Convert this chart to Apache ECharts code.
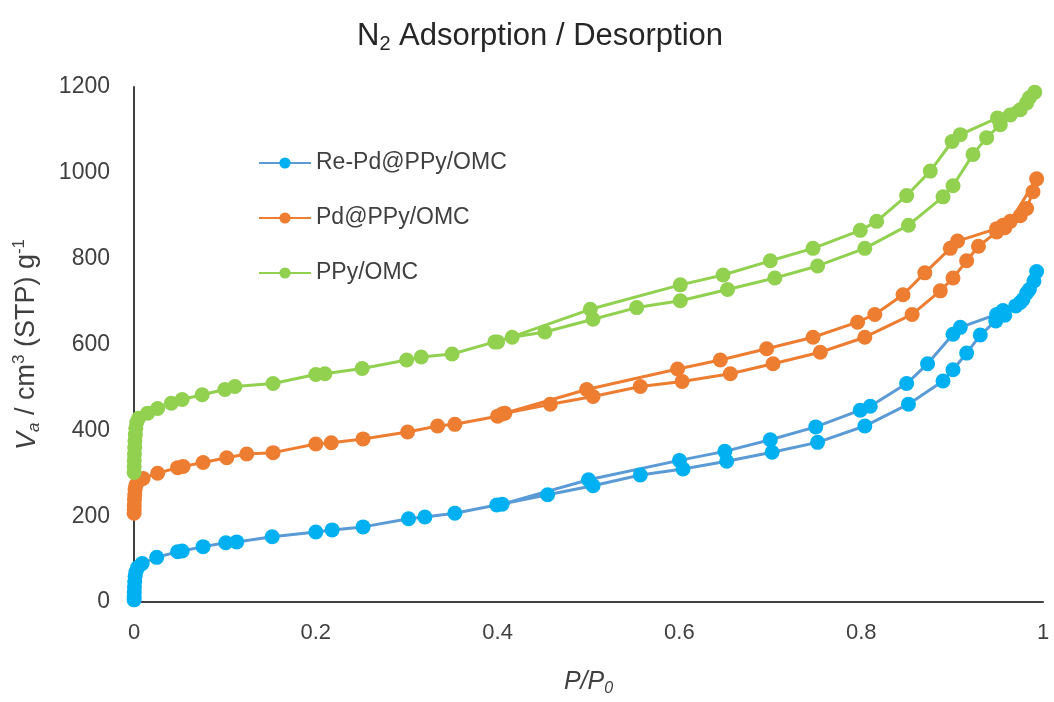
<!DOCTYPE html>
<html>
<head>
<meta charset="utf-8">
<script src="https://cdn.jsdelivr.net/npm/echarts@6/dist/echarts.min.js"></script>
<style>html,body{margin:0;padding:0;background:#fff;}#c{width:1054px;height:702px;}</style>
</head>
<body>
<div id="c"></div>
<script>
// Series names
const seriesNames = ['Re-Pd@PPy/OMC', 'Pd@PPy/OMC', 'PPy/OMC'];
// Axis ticks
const yTicks = [0, 200, 400, 600, 800, 1000, 1200];
const xTicks = [0, 0.2, 0.4, 0.6, 0.8, 1];

// Re-Pd@PPy/OMC : adsorption [P/P0, Va]
const reAds = [[0.0001,5],[0.0002,12],[0.0003,22],[0.0005,35],[0.0008,48],[0.0012,60],[0.002,70],[0.004,80],[0.009,90],[0.025,104],[0.048,117],[0.053,119],[0.076,129],[0.101,138],[0.113,140],[0.152,152],[0.2,163],[0.218,168],[0.252,175],[0.302,194],[0.32,198],[0.353,207],[0.399,226],[0.455,250],[0.505,271],[0.557,296],[0.604,310],[0.652,328],[0.702,349],[0.752,372],[0.804,410],[0.852,461],[0.89,515],[0.901,541],[0.916,580],[0.931,622],[0.948,655],[0.958,668],[0.97,690],[0.978,705],[0.985,728],[0.99,748],[0.993,770]];
// Re-Pd@PPy/OMC : desorption
const reDes = [[0.982,720],[0.975,698],[0.956,679],[0.949,670],[0.909,640],[0.901,624],[0.873,555],[0.85,509],[0.81,456],[0.799,447],[0.75,408],[0.7,378],[0.65,351],[0.6,330],[0.5,285],[0.405,228]];

// Pd@PPy/OMC : adsorption
const pdAds = [[0.0001,207],[0.0002,215],[0.0003,225],[0.0005,238],[0.0008,250],[0.0012,262],[0.002,272],[0.004,279],[0.01,288],[0.026,300],[0.048,313],[0.054,316],[0.076,325],[0.102,336],[0.124,345],[0.153,348],[0.2,368],[0.217,371],[0.252,380],[0.301,396],[0.334,410],[0.353,414],[0.4,433],[0.408,440],[0.458,461],[0.505,479],[0.557,502],[0.603,514],[0.656,532],[0.703,555],[0.755,582],[0.804,617],[0.856,670],[0.887,725],[0.901,755],[0.916,795],[0.929,829],[0.949,862],[0.958,872],[0.975,900],[0.982,917],[0.989,956],[0.993,986]];
// Pd@PPy/OMC : desorption
const pdDes = [[0.964,887],[0.956,878],[0.949,870],[0.906,841],[0.898,824],[0.87,767],[0.846,716],[0.815,670],[0.796,652],[0.747,617],[0.696,590],[0.645,564],[0.598,543],[0.498,495],[0.405,438]];

// PPy/OMC : adsorption
const ppyAds = [[0.0001,302],[0.0002,315],[0.0003,330],[0.0005,345],[0.0008,360],[0.001,375],[0.0015,390],[0.002,405],[0.003,418],[0.005,428],[0.015,440],[0.026,451],[0.041,463],[0.053,472],[0.075,483],[0.1,495],[0.111,502],[0.153,509],[0.2,530],[0.21,532],[0.251,544],[0.3,564],[0.316,571],[0.35,578],[0.397,606],[0.416,617],[0.452,629],[0.505,659],[0.553,686],[0.601,702],[0.653,728],[0.705,755],[0.752,783],[0.804,824],[0.852,878],[0.89,944],[0.901,970],[0.923,1043],[0.938,1082],[0.953,1112],[0.964,1135],[0.975,1147],[0.982,1163],[0.991,1188]];
// PPy/OMC : desorption
const ppyDes = [[0.985,1175],[0.95,1128],[0.909,1089],[0.9,1073],[0.876,1004],[0.85,947],[0.817,887],[0.799,866],[0.747,824],[0.7,795],[0.648,762],[0.601,739],[0.502,682],[0.4,606]];

const FONT = 'Liberation Sans, Arial, sans-serif';
const TXT = '#404040';

function mk(name, data, lineColor, markColor) {
  return {
    name: name,
    type: 'line',
    data: data,
    symbol: 'circle',
    symbolSize: 15,
    smooth: false,
    lineStyle: { color: lineColor, width: 3 },
    itemStyle: { color: markColor, borderWidth: 0 },
    emphasis: { disabled: true },
    animation: false
  };
}

const chart = echarts.init(document.getElementById('c'), null, { renderer: 'canvas' });
chart.setOption({
  backgroundColor: '#ffffff',
  animation: false,
  title: {
    text: '{n|N}{s|2}{n| Adsorption / Desorption}',
    left: 352,
    top: 13,
    textStyle: {
      fontWeight: 'normal',
      rich: {
        n: { fontFamily: FONT, fontSize: 31, fontWeight: 'normal', color: '#262626', lineHeight: 36 },
        s: { fontFamily: FONT, fontSize: 20, fontWeight: 'normal', color: '#262626', verticalAlign: 'bottom', lineHeight: 28, padding: [13, 0, 0, 0] }
      }
    }
  },
  legend: {
    orient: 'vertical',
    left: 258,
    top: 149,
    padding: 0,
    itemWidth: 52,
    itemHeight: 14,
    itemGap: 27,
    textStyle: { fontFamily: FONT, fontSize: 23, color: TXT, lineHeight: 28 },
    data: seriesNames
  },
  grid: { left: 134, right: 11, top: 87, bottom: 94, containLabel: false },
  xAxis: {
    type: 'value',
    min: 0, max: 1, interval: 0.2,
    name: '{i|P/P}{s|0}',
    nameLocation: 'middle',
    nameGap: 65,
    nameTextStyle: {
      rich: {
        i: { fontFamily: FONT, fontSize: 25, fontStyle: 'italic', color: TXT, lineHeight: 30 },
        s: { fontFamily: FONT, fontSize: 16, fontStyle: 'italic', color: TXT, verticalAlign: 'bottom', padding: [10, 0, 0, 0], lineHeight: 24 }
      }
    },
    axisLine: { show: true, lineStyle: { color: '#404040', width: 2 } },
    axisTick: { show: false },
    splitLine: { show: false },
    axisLabel: { fontFamily: FONT, fontSize: 22, color: TXT, margin: 20,
      formatter: function (v) { const r = Math.round(v * 10) / 10; return xTicks.indexOf(r) >= 0 ? String(r) : ''; } }
  },
  yAxis: {
    type: 'value',
    min: 0, max: 1200, interval: 200,
    name: '{i|V}{s|a}{n| / cm}{p|3}{n| (STP) g}{p|-1}',
    nameLocation: 'middle',
    nameRotate: 90,
    nameGap: 91,
    nameTextStyle: {
      rich: {
        i: { fontFamily: FONT, fontSize: 27, fontStyle: 'italic', color: TXT, lineHeight: 32 },
        n: { fontFamily: FONT, fontSize: 27, color: TXT, lineHeight: 32 },
        s: { fontFamily: FONT, fontSize: 17, fontStyle: 'italic', color: TXT, verticalAlign: 'bottom', padding: [11, 0, 0, 0], lineHeight: 24 },
        p: { fontFamily: FONT, fontSize: 17, color: TXT, verticalAlign: 'top', padding: [0, 0, 9, 0], lineHeight: 24 }
      }
    },
    axisLine: { show: true, lineStyle: { color: '#404040', width: 2 } },
    axisTick: { show: false },
    splitLine: { show: false },
    axisLabel: { fontFamily: FONT, fontSize: 23, color: TXT, margin: 24,
      formatter: function (v) { return yTicks.indexOf(v) >= 0 ? String(v) : ''; } }
  },
  series: [
    mk(seriesNames[0], reAds.concat(reDes), '#5B9BD5', '#00B0F0'),
    mk(seriesNames[1], pdAds.concat(pdDes), '#ED7D31', '#ED7D31'),
    mk(seriesNames[2], ppyAds.concat(ppyDes), '#92D050', '#92D050')
  ]
});
</script>
</body>
</html>
